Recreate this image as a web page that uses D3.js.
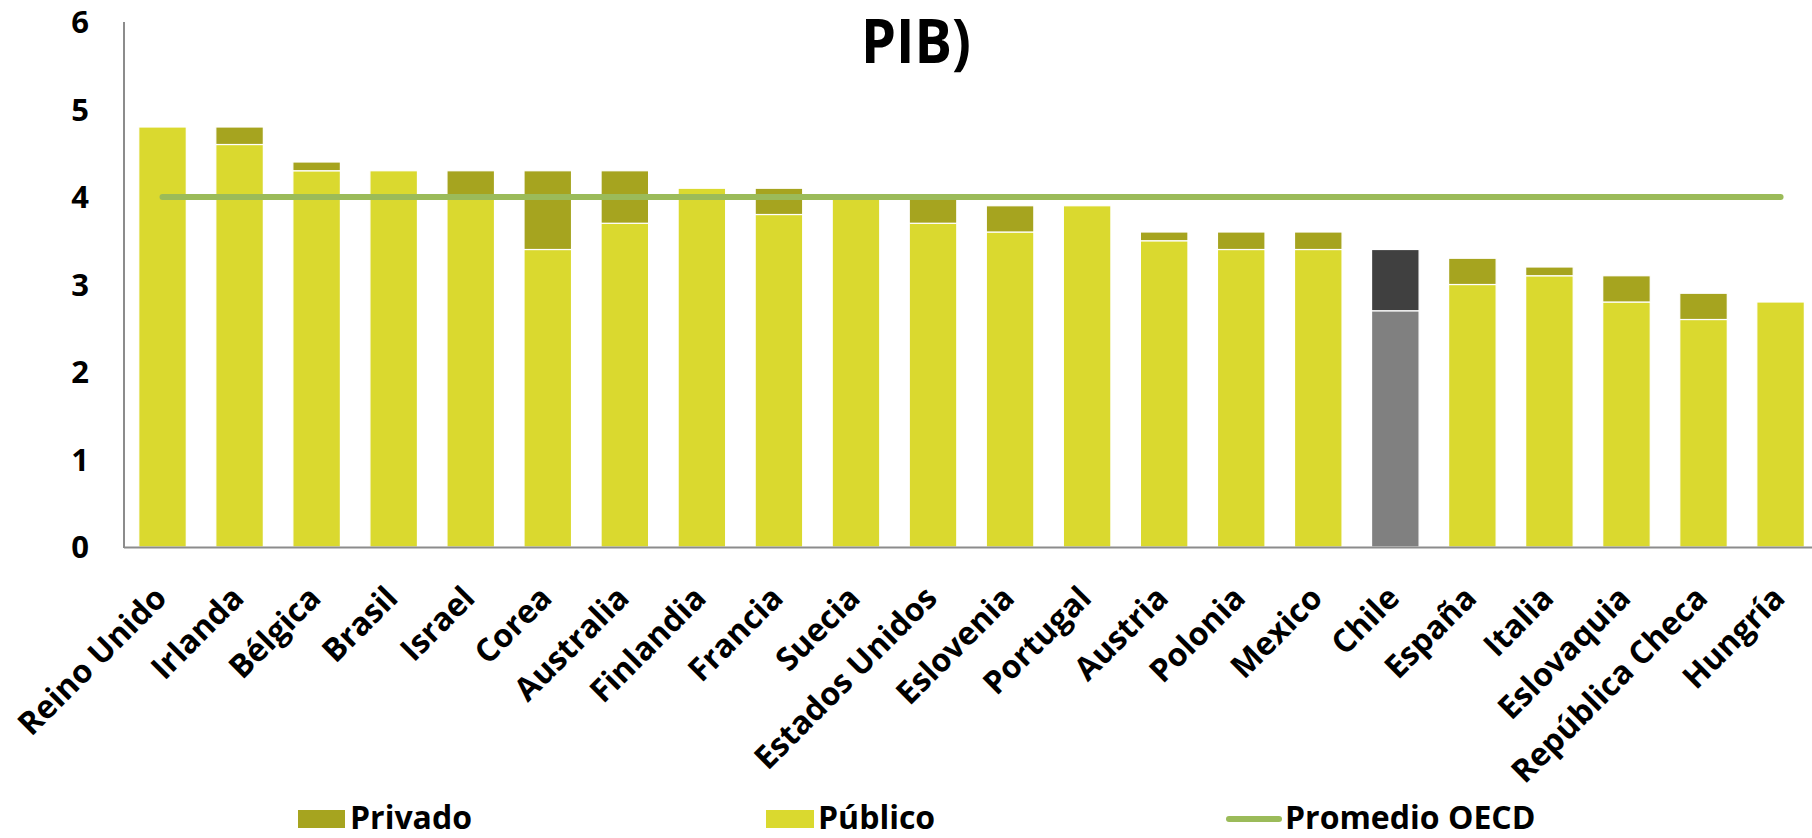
<!DOCTYPE html>
<html>
<head>
<meta charset="utf-8">
<script src="https://cdn.jsdelivr.net/npm/d3@7"></script>
<style>
  html, body { margin: 0; padding: 0; background: #fff; }
  svg { display: block; font-family: "Open Sans", sans-serif; font-weight: 700; }
</style>
</head>
<body>
<svg id="chart" width="1812" height="838"></svg>
<script>
const countries = ["Reino Unido","Irlanda","Bélgica","Brasil","Israel","Corea","Australia","Finlandia","Francia","Suecia","Estados Unidos","Eslovenia","Portugal","Austria","Polonia","Mexico","Chile","España","Italia","Eslovaquia","República Checa","Hungría"];
const publico = [4.8,4.6,4.3,4.3,4.0,3.4,3.7,4.1,3.8,4.0,3.7,3.6,3.9,3.5,3.4,3.4,2.7,3.0,3.1,2.8,2.6,2.8];
const privado = [0.0,0.2,0.1,0.0,0.3,0.9,0.6,0.0,0.3,0.0,0.3,0.3,0.0,0.1,0.2,0.2,0.7,0.3,0.1,0.3,0.3,0.0];
const promedioOECD = 4.0;
const yTicks = [0,1,2,3,4,5,6];
const highlight = "Chile";
const titleText = "PIB)";
const legendLabels = ["Privado","Público","Promedio OECD"];

const colPub = "#DAD92F", colPriv = "#A6A41F", colLine = "#9BBB59";
const colPubHi = "#808080", colPrivHi = "#404040";

const svg = d3.select("#chart");
const x0 = 124, yBottom = 547, yTop = 22;
const step = 77.05;
const x = d3.scaleBand().domain(countries).range([x0, x0 + step * countries.length]).paddingInner(0.383).paddingOuter(0.1915);
const y = d3.scaleLinear().domain([0, 6]).range([yBottom, yTop]);

// title
svg.append("text").attr("x", 916).attr("y", 63).attr("text-anchor", "middle")
  .attr("font-size", 60).attr("fill", "#000").attr("textLength", 110).attr("lengthAdjust", "spacingAndGlyphs").text(titleText);

// bars
const data = countries.map((c, i) => ({c, pub: publico[i], priv: privado[i]}));
const g = svg.append("g");
g.selectAll("rect.pub").data(data).join("rect").attr("class", "pub")
  .attr("x", d => x(d.c)).attr("width", x.bandwidth())
  .attr("y", d => y(d.pub)).attr("height", d => y(0) - y(d.pub))
  .attr("fill", d => d.c === highlight ? colPubHi : colPub)
  .attr("stroke", "#fff").attr("stroke-width", 1.2);
g.selectAll("rect.priv").data(data.filter(d => d.priv > 0)).join("rect").attr("class", "priv")
  .attr("x", d => x(d.c)).attr("width", x.bandwidth())
  .attr("y", d => y(d.pub + d.priv)).attr("height", d => y(d.pub) - y(d.pub + d.priv))
  .attr("fill", d => d.c === highlight ? colPrivHi : colPriv)
  .attr("stroke", "#fff").attr("stroke-width", 1.2);

// average line
const c0 = x(countries[0]) + x.bandwidth() / 2, c1 = x(countries[countries.length - 1]) + x.bandwidth() / 2;
svg.append("line").attr("x1", c0).attr("x2", c1).attr("y1", y(promedioOECD)).attr("y2", y(promedioOECD))
  .attr("stroke", colLine).attr("stroke-width", 6).attr("stroke-linecap", "round");

// axes lines
svg.append("line").attr("x1", x0).attr("x2", x0).attr("y1", yTop).attr("y2", yBottom + 1).attr("stroke", "#8C8C8C").attr("stroke-width", 2);
svg.append("line").attr("x1", x0).attr("x2", 1812).attr("y1", yBottom + 0.5).attr("y2", yBottom + 0.5).attr("stroke", "#8C8C8C").attr("stroke-width", 2);

// y tick labels
svg.append("g").selectAll("text").data(yTicks).join("text")
  .attr("x", 89).attr("y", d => y(d)).attr("dy", "0.36em").attr("text-anchor", "end")
  .attr("font-size", 31).attr("fill", "#000").text(d => d);

// x labels
svg.append("g").selectAll("text").data(countries).join("text")
  .attr("transform", d => `translate(${x(d) + x.bandwidth() / 2 + 6},${600}) rotate(-45)`)
  .attr("text-anchor", "end").attr("font-size", 32).attr("fill", "#000").text(d => d);

// legend
const lg = svg.append("g");
lg.append("rect").attr("x", 298).attr("y", 810).attr("width", 47).attr("height", 18).attr("fill", colPriv);
lg.append("text").attr("x", 350).attr("y", 829).attr("font-size", 32).text(legendLabels[0]);
lg.append("rect").attr("x", 766).attr("y", 810).attr("width", 48).attr("height", 18).attr("fill", colPub);
lg.append("text").attr("x", 818).attr("y", 829).attr("font-size", 32).text(legendLabels[1]);
lg.append("line").attr("x1", 1229).attr("x2", 1279).attr("y1", 819).attr("y2", 819).attr("stroke", colLine).attr("stroke-width", 6).attr("stroke-linecap", "round");
lg.append("text").attr("x", 1285).attr("y", 829).attr("font-size", 32).text(legendLabels[2]);
</script>
</body>
</html>
